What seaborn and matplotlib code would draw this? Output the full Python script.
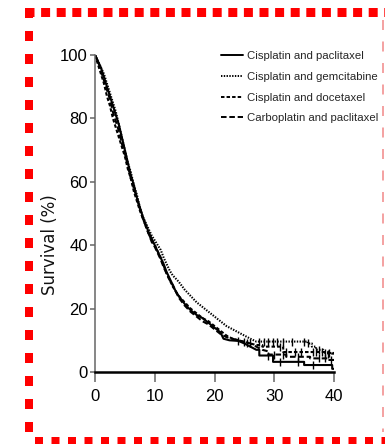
import numpy as np
import pandas as pd
import matplotlib
matplotlib.use('Agg')
import matplotlib.pyplot as plt
from matplotlib.lines import Line2D
import seaborn as sns

# Kaplan-Meier style survival curves (months, % surviving)
regimens = ['Cisplatin and paclitaxel', 'Cisplatin and gemcitabine',
            'Cisplatin and docetaxel', 'Carboplatin and paclitaxel']

months_cp = [0, 0.5, 1, 1.5, 2, 2.5, 3, 3.5, 4, 4.5, 5, 5.5, 6, 6.5, 7, 7.5, 8, 8.5, 9, 9.5,
             10, 10.5, 11, 11.5, 12, 12.5, 13, 13.5, 14, 15, 16, 17, 18, 19, 20, 21, 21.5,
             22.5, 24, 25, 26, 27, 27.5, 27.5, 29.8, 29.8, 35, 35, 39.7, 39.7, 40]
surv_cp = [100, 98, 96, 93, 90, 87, 84, 81, 78, 74, 70, 66, 62, 59, 55, 52, 49, 46.5, 44, 42,
           40, 38, 36, 34, 31.5, 29.5, 27.5, 25.5, 24, 21.5, 19.5, 18, 17, 15.5, 14, 12.5, 10.5,
           10, 9.8, 9, 8, 7, 7, 5.2, 5.2, 3.2, 3.2, 2.2, 2.2, 1, 1]

months_cg = [0, 0.5, 1, 1.5, 2, 2.5, 3, 3.5, 4, 4.5, 5, 5.5, 6, 6.5, 7, 7.5, 8, 8.5, 9, 9.5,
             10, 10.5, 11, 11.5, 12, 12.5, 13, 13.5, 14, 15, 16, 17, 18, 19, 20, 21, 22, 23,
             24, 25, 26, 27, 35.6, 35.6, 36.3, 36.3, 37, 37, 38.2, 38.2, 40]
surv_cg = [100, 98, 96, 94, 91, 88, 85, 82, 78, 74, 70, 66, 63, 59, 56, 52, 49, 47, 45, 43,
           41.5, 40, 38.5, 36, 34, 32, 30.5, 29.5, 28.5, 26, 24, 22, 20.5, 19, 17.5, 16, 14.5,
           13.5, 12.5, 11.5, 10.5, 9.6, 9.6, 9, 9, 8, 8, 7, 7, 6, 6]

months_cd = [0, 0.5, 1, 1.5, 2, 2.5, 3, 3.5, 4, 4.5, 5, 5.5, 6, 6.5, 7, 7.5, 8, 8.5, 9, 9.5,
             10, 10.5, 11, 11.5, 12, 12.5, 13, 13.5, 14, 15, 16, 17, 18, 19, 20, 21, 22, 23,
             24, 25, 26, 27, 28, 28, 31.5, 31.5, 39, 39, 40]
surv_cd = [100, 97, 94, 91, 87, 84, 80, 77, 74, 71, 68, 64, 61, 57, 54, 51, 48.5, 46, 43.5, 41.5,
           40, 38, 36, 33.5, 31, 29, 27, 25.5, 24, 22, 20, 18.5, 17, 16, 14.5, 13, 11.5, 10.5,
           10, 9.5, 9, 8.5, 8.5, 8, 8, 6.3, 6.3, 5.8, 5.8]

months_kp = [0, 0.5, 1, 1.5, 2, 2.5, 3, 3.5, 4, 4.5, 5, 5.5, 6, 6.5, 7, 7.5, 8, 8.5, 9, 9.5,
             10, 10.5, 11, 11.5, 12, 12.5, 13, 13.5, 14, 15, 16, 17, 18, 19, 20, 21, 22, 23,
             24, 25, 26, 27, 28, 29, 29, 32, 32, 36, 36, 39, 39, 40]
surv_kp = [100, 98, 95, 92, 89, 86, 82, 79, 76, 72, 69, 65, 61, 58, 55, 51.5, 48.5, 46, 43.5, 41,
           39.5, 37.5, 35.5, 33, 31, 29, 27.5, 25.5, 23.5, 21, 19, 17.5, 16, 15, 13.5, 12, 11,
           10.5, 10, 9.5, 9, 8, 7, 6.5, 5.5, 5.5, 4.8, 4.8, 4.3, 4.3, 3.8, 3.8]

# censored observations (months)
censor_cp = [24, 25.5, 29, 31, 34, 36.5]
censor_cg = [27.5, 28.3, 29, 29.8, 30.5, 31.5, 33, 35, 35.6, 37.5, 38.5, 39.2]
censor_cd = [31, 32, 33.5, 34.5, 36.5, 37, 38, 39]
censor_kp = [25, 26, 30, 31.5, 34, 37.5, 38.5, 39.5]

W, H = 385, 444
plt.rcParams['lines.scale_dashes'] = False
sns.set_style('white')
font = ['Liberation Sans', 'DejaVu Sans']

curves = [(months_cp, surv_cp, censor_cp), (months_cg, surv_cg, censor_cg),
          (months_cd, surv_cd, censor_cd), (months_kp, surv_kp, censor_kp)]

rows, marks = [], []
for name, (t, s, c) in zip(regimens, curves):
    rows.append(pd.DataFrame({'months': t, 'survival': s, 'regimen': name}))
    t_arr, s_arr = np.array(t), np.array(s)
    idx = np.searchsorted(t_arr, c, side='right') - 1
    marks.append(pd.DataFrame({'months': c, 'survival': s_arr[idx], 'regimen': name}))
df = pd.concat(rows, ignore_index=True)
cens = pd.concat(marks, ignore_index=True)

fig = plt.figure(figsize=(W / 100, H / 100), dpi=100)
ax = fig.add_axes([95 / W, 1 - 372 / H, 239 / W, (372 - 55) / H])

dash_map = {regimens[0]: '', regimens[1]: (1, 1), regimens[2]: (2.5, 1.5), regimens[3]: (4, 2)}
sns.lineplot(data=df, x='months', y='survival', style='regimen', dashes=dash_map,
             color='black', estimator=None, sort=False, linewidth=1.5, ax=ax)
sns.scatterplot(data=cens, x='months', y='survival', marker='|', s=30, color='black',
                linewidth=1, legend=False, ax=ax)

ax.set_xlim(0, 40)
ax.set_ylim(0, 100)
ax.set_xticks([0, 10, 20, 30, 40])
ax.set_yticks([0, 20, 40, 60, 80, 100])
ax.set_xlabel('')
ax.set_ylabel('')
for sp in ['top', 'right']:
    ax.spines[sp].set_visible(False)
ax.spines['left'].set_color('#666666')
ax.spines['left'].set_linewidth(1.1)
ax.spines['bottom'].set_color('black')
ax.spines['bottom'].set_linewidth(1.8)
ax.tick_params(axis='y', length=3.6, width=1.1, color='#666666', pad=1.5, left=True)
ax.tick_params(axis='x', length=7.2, width=1.1, color='#666666', pad=5, bottom=True)
for lab in ax.get_xticklabels() + ax.get_yticklabels():
    lab.set_family(font)
    lab.set_fontsize(12)
    lab.set_color('black')

handles, labels = ax.get_legend_handles_labels()
leg = ax.legend(handles[-4:], labels[-4:], loc='upper left', frameon=False,
                bbox_to_anchor=(221 / W, 1 - 51 / H), bbox_transform=fig.transFigure,
                borderpad=0, borderaxespad=0, handlelength=1.9, handletextpad=0.35,
                labelspacing=0.95, prop={'family': font, 'size': 8.2})
for ln in leg.get_lines():
    ln.set_color('black')
    ln.set_linewidth(1.4)

fig.text(50 / W, 1 - 245 / H, 'Survival (%)', rotation=90, ha='center', va='center',
         fontsize=12, family='DejaVu Sans', color='#111111')

# dotted red frame around the panel
def px(x, y):
    return x / W, 1 - y / H

def frame_line(p0, p1, lw, on, off, color):
    (x0, y0), (x1, y1) = px(*p0), px(*p1)
    fig.add_artist(Line2D([x0, x1], [y0, y1], transform=fig.transFigure, color=color,
                          linewidth=lw * 0.72, linestyle=(0, (on * 0.72, off * 0.72)),
                          solid_capstyle='butt', dash_capstyle='butt'))

frame_line((25, 12.5), (385, 12.5), 9, 9, 6.6, 'red')
frame_line((29, 8), (29, 440), 8, 10, 13, 'red')
frame_line((35, 441), (385, 441), 8, 8, 8.5, 'red')
frame_line((383, 20), (383, 432), 2, 10, 11.5, '#f4a3a3')

fig.savefig('out.png', dpi=100)
